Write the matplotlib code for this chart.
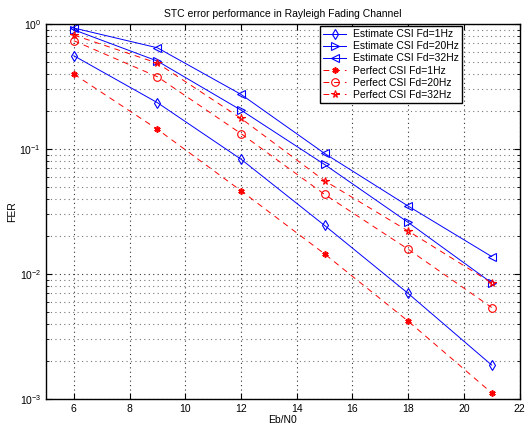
import matplotlib.pyplot as plt
from matplotlib.ticker import LogLocator, NullFormatter

FONT_SIZE = 7.5
plt.rcParams.update({'font.size': FONT_SIZE, 'font.family': 'Liberation Sans'})

# Eb/N0 (dB)
ebn0 = [6, 9, 12, 15, 18, 21]

# FER, estimated CSI
est_1hz = [0.558, 0.235, 0.083, 0.0245, 0.0070, 0.00187]
est_20hz = [0.90, 0.506, 0.205, 0.0753, 0.0259, 0.0085]
est_32hz = [0.93, 0.646, 0.274, 0.0923, 0.0350, 0.0138]

# FER, perfect CSI
perf_1hz = [0.398, 0.144, 0.0464, 0.0145, 0.0042, 0.00112]
perf_20hz = [0.736, 0.379, 0.133, 0.0434, 0.0158, 0.0054]
perf_32hz = [0.817, 0.487, 0.176, 0.0558, 0.0221, 0.0085]

labels = ['Estimate CSI Fd=1Hz', 'Estimate CSI Fd=20Hz', 'Estimate CSI Fd=32Hz',
          'Perfect CSI Fd=1Hz', 'Perfect CSI Fd=20Hz', 'Perfect CSI Fd=32Hz']

BLUE = '#0000ff'
RED = '#ff0000'


def main():
    fig = plt.figure(figsize=(5.25, 4.3), dpi=100)
    ax = fig.add_axes([0.0876, 0.072, 0.902, 0.872])

    blue_kw = dict(color=BLUE, linestyle='-', linewidth=0.7, markersize=5.5,
                   markerfacecolor='none', markeredgewidth=0.8)
    red_kw = dict(color=RED, linestyle=(0, (6, 5)), linewidth=0.7, markersize=5.5,
                  markeredgewidth=0.8)

    ax.semilogy(ebn0, est_1hz, marker='d', label=labels[0], **blue_kw)
    ax.semilogy(ebn0, est_20hz, marker='>', label=labels[1], **blue_kw)
    ax.semilogy(ebn0, est_32hz, marker='<', label=labels[2], **blue_kw)
    ax.semilogy(ebn0, perf_1hz, marker=(6, 2, 0), label=labels[3],
                **dict(red_kw, markersize=4.5, markeredgewidth=1.2))
    ax.semilogy(ebn0, perf_20hz, marker='o', markerfacecolor='none', label=labels[4], **red_kw)
    ax.semilogy(ebn0, perf_32hz, marker='*', markerfacecolor='none', label=labels[5], **red_kw)

    ax.set_xlim(5, 22)
    ax.set_ylim(1e-3, 1)
    ax.set_xticks(range(6, 23, 2))
    ax.yaxis.set_major_locator(LogLocator(base=10, numticks=10))
    ax.yaxis.set_minor_locator(LogLocator(base=10, subs=range(2, 10), numticks=20))
    ax.yaxis.set_minor_formatter(NullFormatter())

    ax.grid(True, which='major', linestyle=(0, (1, 3)), color='#333333', linewidth=0.8)
    ax.grid(True, which='minor', axis='y', linestyle=(0, (1, 3)), color='#777777', linewidth=0.8)
    ax.tick_params(which='both', direction='in', top=True, right=True, length=4)
    ax.tick_params(which='minor', length=2)
    for s in ax.spines.values():
        s.set_linewidth(1.0)

    ax.set_title('STC error performance in Rayleigh Fading Channel', fontsize=FONT_SIZE, pad=5)
    ax.set_xlabel('Eb/N0', labelpad=1)
    ax.set_ylabel('FER', labelpad=2)

    leg = ax.legend(loc='upper right', bbox_to_anchor=(0.882, 1.0), borderaxespad=0.2,
                    fancybox=False, edgecolor='black', framealpha=1, fontsize=FONT_SIZE,
                    handlelength=2.2, labelspacing=0.2, borderpad=0.3, handletextpad=0.6)
    leg.get_frame().set_linewidth(1.0)

    fig.savefig('out.png', dpi=100)
    plt.close(fig)


if __name__ == "__main__":
    main()
